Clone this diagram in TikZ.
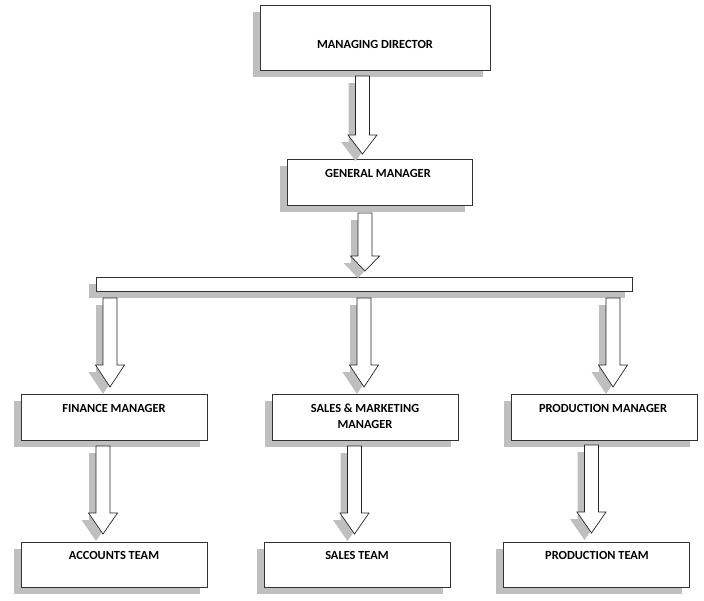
\documentclass[tikz,border=0pt]{standalone}
\usepackage{fontspec}
\setmainfont{Carlito}
\usetikzlibrary{shadows}
\tikzset{
  box/.style={draw=black!80, fill=white, line width=0.9pt, inner sep=0pt, outer sep=0pt,
    drop shadow={shadow xshift=-7pt, shadow yshift=-7pt, fill=black!25, opacity=1}},
  lbl/.style={font=\fontsize{12.4}{16}\selectfont\bfseries, align=center, inner sep=0pt},
  arrowbody/.style={draw=black!85, fill=white, line width=0.7pt, line join=miter},
  arrowshadow/.style={fill=black!25, shift={(-7,7)}}
}
% #1 centre x, #2 top y, #3 head base y, #4 tip y
\newcommand\arrpath[4]{(#1-7,#2) -- (#1+7,#2) -- (#1+7,#3) -- (#1+14.5,#3) -- (#1,#4) -- (#1-14.5,#3) -- (#1-7,#3) -- cycle}
\newcommand\blockarrow[4]{%
  \fill[arrowshadow] \arrpath{#1}{#2}{#3}{#4};
  \draw[arrowbody] \arrpath{#1}{#2}{#3}{#4};}
\begin{document}
\begin{tikzpicture}[x=1pt,y=-1pt]
\useasboundingbox (0,0) rectangle (704,600);
% boxes
\node[box, minimum width=230, minimum height=65] (md) at (375,37.5) {};
\node[lbl] (mdt) at (375,44) {MANAGING DIRECTOR};
\node[box, minimum width=185, minimum height=46] (gm) at (379.5,182) {};
\node[lbl] (gmt) at (378,173) {GENERAL MANAGER};
\node[box, minimum width=536, minimum height=14] (bar) at (364,284) {};
\node[box, minimum width=186, minimum height=46] (fm) at (114,417) {};
\node[lbl] (fmt) at (114,408) {FINANCE MANAGER};
\node[box, minimum width=186, minimum height=46] (sm) at (365,417) {};
\node[lbl] (smt) at (365,416) {SALES \& MARKETING\\MANAGER};
\node[box, minimum width=186, minimum height=46] (pm) at (604,417) {};
\node[lbl] (pmt) at (603,408) {PRODUCTION MANAGER};
\node[box, minimum width=186, minimum height=45] (at) at (114,564.5) {};
\node[lbl] (att) at (114,555) {ACCOUNTS TEAM};
\node[box, minimum width=186, minimum height=45] (st) at (357,564.5) {};
\node[lbl] (stt) at (357,555) {SALES TEAM};
\node[box, minimum width=186, minimum height=45] (pt) at (596,564.5) {};
\node[lbl] (ptt) at (597,555) {PRODUCTION TEAM};
% block arrows
\blockarrow{362.5}{76}{135}{154}
\blockarrow{365}{213}{256}{271}
\blockarrow{110}{298}{365}{387}
\blockarrow{364}{298}{365}{387}
\blockarrow{613}{298}{365}{387}
\blockarrow{103}{446}{513}{534}
\blockarrow{354.5}{446}{513}{534}
\blockarrow{591.5}{445}{512}{533}
\end{tikzpicture}
\end{document}
